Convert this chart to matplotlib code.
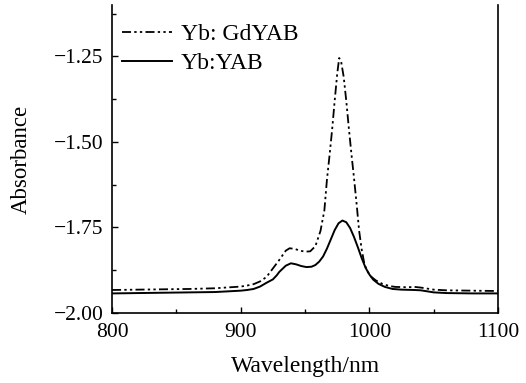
import numpy as np
import matplotlib
matplotlib.use("Agg")
import matplotlib.pyplot as plt
from matplotlib.ticker import MultipleLocator

# Yb: GdYAB (dash-dot-dot)
wlGd = [800, 820, 840, 860, 880, 900, 905, 910, 915, 920, 925, 930, 935, 938,
        942, 946, 950, 954, 958, 962, 965, 967, 969, 971, 973, 975, 976.5, 978,
        980, 982, 984, 986, 988, 990, 992, 994, 996, 998, 1001, 1005, 1010, 1015,
        1020, 1030, 1035, 1040, 1050, 1060, 1080, 1100]
absGd = [-1.933, -1.932, -1.931, -1.930, -1.928, -1.923, -1.920, -1.916, -1.908,
         -1.895, -1.870, -1.845, -1.818, -1.811, -1.813, -1.818, -1.821, -1.820,
         -1.805, -1.760, -1.700, -1.610, -1.540, -1.465, -1.380, -1.300, -1.255,
         -1.265, -1.310, -1.380, -1.460, -1.535, -1.605, -1.680, -1.760, -1.815,
         -1.855, -1.876, -1.893, -1.905, -1.915, -1.921, -1.924, -1.925, -1.924,
         -1.926, -1.932, -1.934, -1.935, -1.936]

# Yb:YAB (solid)
wlY = [800, 820, 840, 860, 880, 900, 905, 910, 915, 920, 925, 928, 930, 935, 939,
       943, 947, 951, 955, 958, 961, 964, 967, 970, 973, 976, 979, 982, 985, 988,
       991, 994, 997, 1000, 1003, 1007, 1012, 1018, 1025, 1035, 1040, 1050, 1060,
       1080, 1100]
absY = [-1.943, -1.942, -1.941, -1.940, -1.939, -1.935, -1.933, -1.930, -1.923,
        -1.912, -1.902, -1.890, -1.880, -1.862, -1.855, -1.858, -1.863, -1.866,
        -1.865, -1.860, -1.850, -1.835, -1.812, -1.785, -1.758, -1.738, -1.730,
        -1.735, -1.752, -1.778, -1.808, -1.840, -1.868, -1.888, -1.903, -1.915,
        -1.924, -1.930, -1.932, -1.933, -1.934, -1.940, -1.942, -1.943, -1.943]

yTicks = [-2.0, -1.75, -1.5, -1.25]
yTickLabels = [u'\u22122.00', u'\u22121.75', u'\u22121.50', u'\u22121.25']

plt.rcParams['font.family'] = ['Liberation Serif', 'DejaVu Serif']

fig = plt.figure(figsize=(5.26, 3.83), dpi=100)
ax = fig.add_axes([0.213, 0.183, 0.734, 0.804])

ax.plot(wlGd, absGd, color='black', lw=1.3, dashes=(5, 1.8, 1.3, 1.8, 1.3, 1.8),
        label='Yb: GdYAB')
ax.plot(wlY, absY, color='black', lw=1.4, label='Yb:YAB')

ax.set_xlim(800, 1100)
ax.set_ylim(-2.0, -1.1)
ax.xaxis.set_major_locator(MultipleLocator(100))
ax.xaxis.set_minor_locator(MultipleLocator(50))
ax.set_yticks(yTicks)
ax.set_yticklabels(yTickLabels)
ax.yaxis.set_minor_locator(MultipleLocator(0.125))

ax.tick_params(which='both', direction='in', labelsize=15.5, width=1.0)
ax.tick_params(which='major', length=4.5)
ax.tick_params(which='minor', length=3)
ax.tick_params(axis='x', pad=7)
ax.tick_params(axis='y', pad=6)

ax.spines['top'].set_visible(False)
for s in ['left', 'bottom', 'right']:
    ax.spines[s].set_linewidth(1.2)

ax.set_xlabel('Wavelength/nm', fontsize=17, labelpad=10)
ax.set_ylabel('Absorbance', fontsize=16.5, labelpad=16)

ax.legend(loc='upper left', frameon=False, fontsize=17, handlelength=2.15,
          handletextpad=0.35, labelspacing=0.32, borderaxespad=0.2,
          bbox_to_anchor=(-0.012, 0.985))

plt.savefig('out.png', dpi=100)
